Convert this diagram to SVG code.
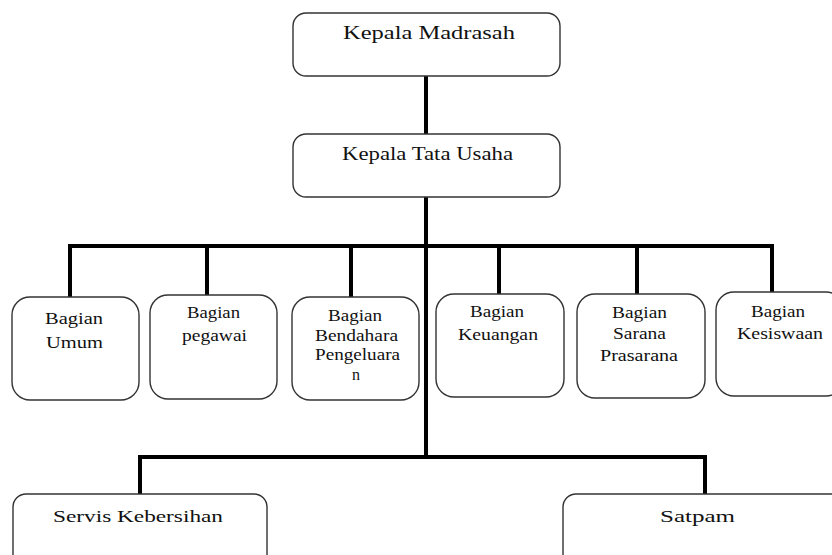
<svg xmlns="http://www.w3.org/2000/svg" width="832" height="555" viewBox="0 0 832 555">
<style>
.box{fill:#fff;stroke:#333;stroke-width:1.4}
.ln{stroke:#000;stroke-width:4;fill:none;stroke-linecap:square}
text{font-family:"Liberation Serif","Times New Roman",serif;fill:#111}
.t{font-size:18px}
.s{font-size:16px}
.b{font-size:17px}
</style>
<rect width="832" height="555" fill="#fff"/>
<g id="connectors">
<path class="ln" d="M426 76V133M426 197V457"/>
<path class="ln" d="M70 246H772M70 246V296M207 246V295M351 246V297M499 246V294M637 246V294M772 246V292"/>
<path class="ln" d="M140 457H705M140 457V494M705 457V494"/>
</g>
<g id="kepala-madrasah">
<rect class="box" x="293" y="13" width="267" height="63" rx="13"/>
<text class="t" x="343" y="39" textLength="172" lengthAdjust="spacingAndGlyphs">Kepala Madrasah</text>
</g>
<g id="kepala-tata-usaha">
<rect class="box" x="293" y="134" width="267" height="63" rx="13"/>
<text class="t" x="342" y="160" textLength="171" lengthAdjust="spacingAndGlyphs">Kepala Tata Usaha</text>
</g>
<g id="bagian-umum">
<rect class="box" x="12" y="297" width="127" height="103" rx="18"/>
<text class="b" x="45" y="324" textLength="58" lengthAdjust="spacingAndGlyphs">Bagian</text>
<text class="b" x="46" y="348" textLength="57" lengthAdjust="spacingAndGlyphs">Umum</text>
</g>
<g id="bagian-pegawai">
<rect class="box" x="150" y="295" width="127" height="104" rx="18"/>
<text class="s" x="187" y="318" textLength="53" lengthAdjust="spacingAndGlyphs">Bagian</text>
<text class="s" x="182" y="341" textLength="65" lengthAdjust="spacingAndGlyphs">pegawai</text>
</g>
<g id="bagian-bendahara">
<rect class="box" x="292" y="297" width="127" height="103" rx="18"/>
<text class="s" x="328" y="321" textLength="54" lengthAdjust="spacingAndGlyphs">Bagian</text>
<text class="s" x="315" y="341" textLength="83" lengthAdjust="spacingAndGlyphs">Bendahara</text>
<text class="s" x="315" y="360" textLength="85" lengthAdjust="spacingAndGlyphs">Pengeluara</text>
<text class="s" x="352" y="380">n</text>
</g>
<g id="bagian-keuangan">
<rect class="box" x="436" y="294" width="128" height="103" rx="18"/>
<text class="s" x="470" y="317" textLength="54" lengthAdjust="spacingAndGlyphs">Bagian</text>
<text class="s" x="458" y="340" textLength="80" lengthAdjust="spacingAndGlyphs">Keuangan</text>
</g>
<g id="bagian-sarana-prasarana">
<rect class="box" x="577" y="294" width="128" height="104" rx="18"/>
<text class="s" x="612" y="318" textLength="55" lengthAdjust="spacingAndGlyphs">Bagian</text>
<text class="s" x="613" y="339" textLength="53" lengthAdjust="spacingAndGlyphs">Sarana</text>
<text class="s" x="600" y="361" textLength="78" lengthAdjust="spacingAndGlyphs">Prasarana</text>
</g>
<g id="bagian-kesiswaan">
<rect class="box" x="716" y="292" width="128" height="104" rx="18"/>
<text class="s" x="751" y="317" textLength="54" lengthAdjust="spacingAndGlyphs">Bagian</text>
<text class="s" x="737" y="339" textLength="86" lengthAdjust="spacingAndGlyphs">Kesiswaan</text>
</g>
<g id="servis-kebersihan">
<rect class="box" x="13" y="494" width="254" height="80" rx="13"/>
<text class="b" x="53" y="522" textLength="170" lengthAdjust="spacingAndGlyphs">Servis Kebersihan</text>
</g>
<g id="satpam">
<rect class="box" x="563" y="494" width="290" height="80" rx="13"/>
<text class="b" x="660" y="522" textLength="75" lengthAdjust="spacingAndGlyphs">Satpam</text>
</g>
</svg>
